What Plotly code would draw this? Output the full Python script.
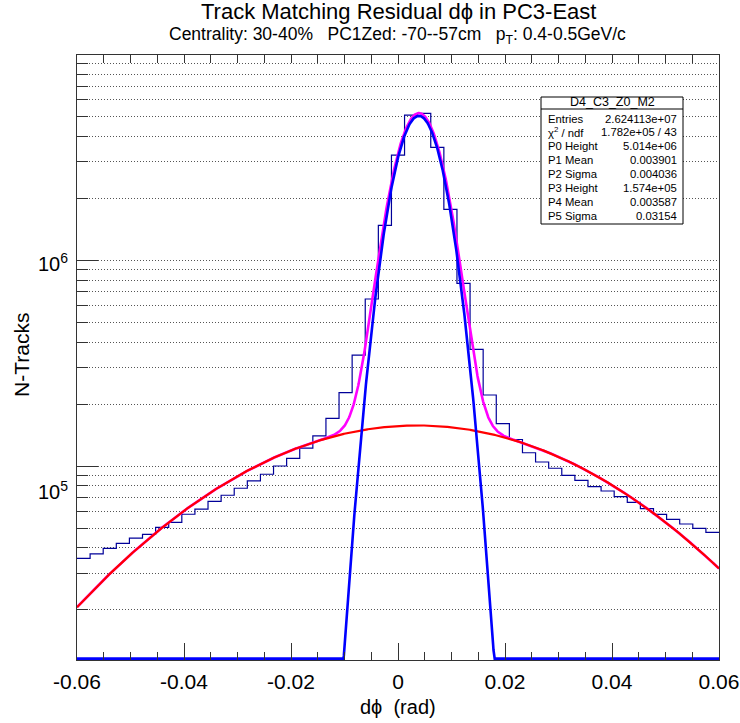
import numpy as np
import plotly.graph_objects as go

# ---------------- data ----------------
X_MIN, X_MAX = -0.06, 0.06
N_BINS = 49
bin_counts = [35600, 37400, 39800, 42100, 44600, 46600, 50400, 53300, 58300, 61700,
              67400, 72100, 78000, 84600, 91200, 100000, 109000, 122000, 140000, 170400,
              226900, 345800, 646800, 1473800, 3234000, 5057000, 5154000, 3524000, 1762000, 770800,
              368600, 221200, 160500, 134500, 116000, 104600, 97500, 90100, 85200, 79330,
              75600, 71000, 66650, 62030, 58290, 55110, 52280, 49840, 47660]

core_height, core_mean, core_sigma = 5.014e6, 0.003901, 0.004036
bg_height, bg_mean, bg_sigma = 1.574e5, 0.003587, 0.03154

Y_MIN, Y_MAX = 1.143e4, 9.9e6

x_tick_vals = [-0.06, -0.04, -0.02, 0.0, 0.02, 0.04, 0.06]
x_tick_text = ["-0.06", "-0.04", "-0.02", "0", "0.02", "0.04", "0.06"]
y_major_vals = [1e5, 1e6]
y_major_text = ["10<sup>5</sup>", "10<sup>6</sup>"]
y_label_shift_px = [24, 2.5]   # ROOT label offsets below tick
y_minor_vals = [k * 10 ** e for e in (4, 5, 6) for k in range(2, 10)]

stats_title = "D4_C3_Z0_M2"
stats_labels = ["Entries", "χ<sup>2</sup> / ndf", "P0 Height", "P1 Mean", "P2 Sigma",
                "P3 Height", "P4 Mean", "P5 Sigma"]
stats_values = ["2.624113e+07", "1.782e+05 / 43", "5.014e+06", "0.003901", "0.004036",
                "1.574e+05", "0.003587", "0.03154"]

title_text = "Track Matching Residual dϕ in PC3-East"
sub_text = ("Centrality:\u00a030-40%\u00a0\u00a0\u00a0PC1Zed:\u00a0-70--57cm\u00a0\u00a0\u00a0"
            "p<sub>T</sub>:\u00a00.4-0.5GeV/c")

# ---------------- geometry ----------------
W, H = 740, 723
L, R, T, B = 77, 719, 55, 660
PW, PH = R - L, B - T
FONT = "Liberation Sans, Arial, sans-serif"


def px_x(px):
    return (px - L) / PW


def px_y(py):
    return (B - py) / PH


def gaus(x, h, m, s):
    return h * np.exp(-0.5 * ((x - m) / s) ** 2)


edges = np.linspace(X_MIN, X_MAX, N_BINS + 1)
xf = np.linspace(X_MIN, X_MAX, 1601)
g_core = gaus(xf, core_height, core_mean, core_sigma)
g_bg = gaus(xf, bg_height, bg_mean, bg_sigma)
g_tot = g_core + g_bg
g_core_drawn = np.maximum(g_core, Y_MIN * 1.015)

fig = go.Figure()
fig.add_trace(go.Scatter(x=edges, y=list(bin_counts) + [bin_counts[-1]], mode="lines",
                         line=dict(color="#000099", width=1.2, shape="hv"),
                         hoverinfo="skip", showlegend=False))
fig.add_trace(go.Scatter(x=xf, y=g_tot, mode="lines", line=dict(color="#ff00ff", width=2.6),
                         hoverinfo="skip", showlegend=False))
fig.add_trace(go.Scatter(x=xf, y=g_bg, mode="lines", line=dict(color="#ff0000", width=2.2),
                         hoverinfo="skip", showlegend=False))
fig.add_trace(go.Scatter(x=xf, y=g_core_drawn, mode="lines", line=dict(color="#0000ff", width=2.6),
                         hoverinfo="skip", showlegend=False))
# carrier for the top tick axis
fig.add_trace(go.Scatter(x=[X_MIN, X_MAX], y=[Y_MIN * 2, Y_MIN * 2], xaxis="x2", mode="lines",
                         line=dict(width=0), opacity=0, hoverinfo="skip", showlegend=False))

grid_dash = "1px,2px"
fig.update_layout(
    width=W, height=H,
    margin=dict(l=L, r=W - R, t=T, b=H - B, autoexpand=False),
    paper_bgcolor="white", plot_bgcolor="white",
    font=dict(family=FONT, color="black"),
    xaxis=dict(range=[X_MIN, X_MAX], tickmode="array", tickvals=x_tick_vals, ticktext=x_tick_text,
               ticks="inside", ticklen=17, tickwidth=1, tickcolor="#333", automargin=False,
               minor=dict(dtick=0.005, tick0=0, ticks="inside", ticklen=8, tickcolor="#333", showgrid=False),
               showgrid=False, zeroline=False, showline=True, linecolor="#333", linewidth=1, mirror=True,
               tickfont=dict(size=21, family=FONT), ticklabelstandoff=3),
    xaxis2=dict(range=[X_MIN, X_MAX], overlaying="x", side="top", matches="x", automargin=False,
                tickmode="linear", dtick=0.005, tick0=0, ticks="inside", ticklen=8, tickcolor="#333",
                showticklabels=False, showgrid=False, zeroline=False, showline=False),
    yaxis=dict(type="log", range=[np.log10(Y_MIN), np.log10(Y_MAX)], tickmode="array",
               tickvals=y_major_vals, showticklabels=False, automargin=False,
               ticks="inside", ticklen=21, tickwidth=1, tickcolor="#333",
               showgrid=True, gridcolor="#555", griddash=grid_dash, gridwidth=1,
               minor=dict(tickmode="array", tickvals=y_minor_vals, ticks="inside", ticklen=11,
                          tickcolor="#333", showgrid=True, gridcolor="#555", griddash=grid_dash, gridwidth=1),
               zeroline=False, showline=True, linecolor="#333", linewidth=1, mirror=True),
)

ann = []
ann.append(dict(text=title_text, x=0.5, y=px_y(12), xref="paper", yref="paper",
                xanchor="center", yanchor="middle", showarrow=False, font=dict(size=22, family=FONT)))
ann.append(dict(text=sub_text, x=px_x(397), y=px_y(35), xref="paper", yref="paper",
                xanchor="center", yanchor="middle", showarrow=False, font=dict(size=17.5, family=FONT)))
ann.append(dict(text="dϕ\u00a0\u00a0(rad)", x=px_x(398), y=px_y(707), xref="paper", yref="paper",
                xanchor="center", yanchor="middle", showarrow=False, font=dict(size=20, family=FONT)))
ann.append(dict(text="N-Tracks", x=px_x(21), y=px_y(355), xref="paper", yref="paper", textangle=-90,
                xanchor="center", yanchor="middle", showarrow=False, font=dict(size=21, family=FONT)))
for v, t, s in zip(y_major_vals, y_major_text, y_label_shift_px):
    ann.append(dict(text=t, x=px_x(70), y=np.log10(v) - s / 206.0, xref="paper", yref="y",
                    xanchor="right", yanchor="middle", showarrow=False, font=dict(size=20, family=FONT)))

# stats box
bx0, bx1, by0, by1 = 541, 683, 97, 224
shapes = [
    dict(type="rect", xref="paper", yref="paper", x0=px_x(bx0), x1=px_x(bx1), y0=px_y(by1), y1=px_y(by0),
         line=dict(color="black", width=1), fillcolor="white", layer="above"),
    dict(type="line", xref="paper", yref="paper", x0=px_x(bx0), x1=px_x(bx1), y0=px_y(109), y1=px_y(109),
         line=dict(color="black", width=1), layer="above"),
]
ann.append(dict(text=stats_title, x=px_x((bx0 + bx1) / 2), y=px_y(102.5), xref="paper", yref="paper",
                xanchor="center", yanchor="middle", showarrow=False, font=dict(size=12.5, family=FONT)))
for i, (lab, val) in enumerate(zip(stats_labels, stats_values)):
    py = 118.5 + 13.9 * i
    ann.append(dict(text=lab, x=px_x(546), y=px_y(py), xref="paper", yref="paper",
                    xanchor="left", yanchor="middle", showarrow=False, font=dict(size=11.3, family=FONT)))
    ann.append(dict(text=val, x=px_x(679), y=px_y(py), xref="paper", yref="paper",
                    xanchor="right", yanchor="middle", showarrow=False, font=dict(size=11.3, family=FONT)))

fig.update_layout(annotations=ann, shapes=shapes)
fig.write_html("out.html")
